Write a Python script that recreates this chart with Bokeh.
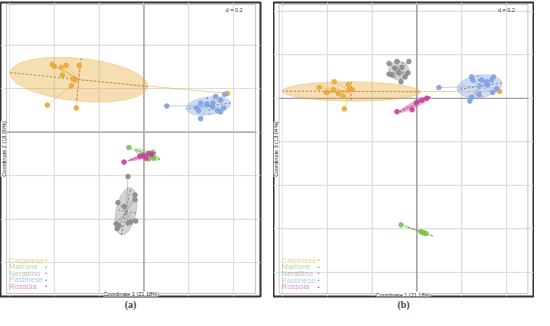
import numpy as np
from bokeh.plotting import figure
from bokeh.models import Range1d, Label
from bokeh.layouts import row
from bokeh.embed import file_html
from bokeh.resources import INLINE

groups = ["Carpinese", "Marrone", "Nerattino", "Pastinese", "Rossola"]
colors = ["#E8A838", "#7CC05A", "#8C8C8C", "#7FA2E0", "#C8449A"]

# ---- Panel (a): Coordinate 1 vs Coordinate 2 ----
carpinese_c1_a = [-0.409, -0.400, -0.369, -0.347, -0.289, -0.364, -0.316, -0.307, -0.324, -0.431, -0.302, 0.373]
carpinese_c2_a = [0.311, 0.302, 0.298, 0.307, 0.307, 0.262, 0.244, 0.240, 0.213, 0.124, 0.111, 0.178]
marrone_c1_a = [-0.067, 0.022, 0.044, 0.040, 0.031, 0.018]
marrone_c2_a = [-0.071, -0.124, -0.120, -0.093, -0.107, -0.102]
nerattino_c1_a = [-0.071, -0.040, -0.040, -0.116, -0.089, -0.124, -0.120, -0.071, -0.058, -0.036, -0.111]
nerattino_c2_a = [-0.204, -0.289, -0.311, -0.324, -0.342, -0.422, -0.444, -0.418, -0.413, -0.409, -0.431]
pastinese_c1_a = [0.102, 0.244, 0.236, 0.253, 0.280, 0.307, 0.320, 0.342, 0.360, 0.356, 0.329, 0.342, 0.253, 0.307]
pastinese_c2_a = [0.120, 0.098, 0.111, 0.133, 0.129, 0.133, 0.164, 0.147, 0.173, 0.111, 0.098, 0.093, 0.062, 0.116]
rossola_c1_a = [-0.089, -0.018, 0.009, 0.036, -0.004, 0.022]
rossola_c2_a = [-0.138, -0.111, -0.120, -0.102, -0.107, -0.098]

# ---- Panel (b): Coordinate 1 vs Coordinate 3 ----
carpinese_c1_b = [-0.436, -0.404, -0.400, -0.369, -0.373, -0.351, -0.329, -0.307, -0.302, -0.289, -0.324, 0.369]
carpinese_c3_b = [0.049, 0.027, 0.027, 0.076, 0.040, 0.022, 0.009, 0.062, 0.040, 0.040, -0.049, 0.031]
marrone_c1_b = [-0.071, 0.018, 0.031, 0.040, 0.027]
marrone_c3_b = [-0.582, -0.613, -0.618, -0.622, -0.618]
nerattino_c1_b = [-0.124, -0.089, -0.036, -0.124, -0.111, -0.067, -0.040, -0.071, -0.098, -0.080, -0.053]
nerattino_c3_b = [0.160, 0.169, 0.169, 0.111, 0.107, 0.142, 0.116, 0.076, 0.138, 0.116, 0.098]
pastinese_c1_b = [0.098, 0.244, 0.249, 0.289, 0.311, 0.342, 0.356, 0.338, 0.276, 0.244, 0.236, 0.316, 0.333]
pastinese_c3_b = [0.049, 0.098, 0.084, 0.084, 0.076, 0.098, 0.044, 0.027, 0.018, 0.004, -0.013, 0.062, 0.084]
rossola_c1_b = [-0.089, -0.022, 0.000, 0.044, 0.022]
rossola_c3_b = [-0.062, -0.053, -0.018, 0.000, -0.009]

panel_a_data = [(carpinese_c1_a, carpinese_c2_a), (marrone_c1_a, marrone_c2_a),
                (nerattino_c1_a, nerattino_c2_a), (pastinese_c1_a, pastinese_c2_a),
                (rossola_c1_a, rossola_c2_a)]
panel_b_data = [(carpinese_c1_b, carpinese_c3_b), (marrone_c1_b, marrone_c3_b),
                (nerattino_c1_b, nerattino_c3_b), (pastinese_c1_b, pastinese_c3_b),
                (rossola_c1_b, rossola_c3_b)]

x_label = "Coordinate 1 (21.18%)"
y_label_a = "Coordinate 2 (18.30%)"
y_label_b = "Coordinate 3 (13.04%)"
grid_step = 0.2
FONT = "Liberation Sans"


def darken(hexcol, f=0.55):
    r, g, b = (int(hexcol[i:i + 2], 16) for i in (1, 3, 5))
    return "#%02x%02x%02x" % (int(r * f), int(g * f), int(b * f))


def ellipse_geom(x, y, k=1.5, n=120):
    x = np.asarray(x, float)
    y = np.asarray(y, float)
    mx, my = x.mean(), y.mean()
    cov = np.cov(np.vstack([x, y]), bias=True)
    vals, vecs = np.linalg.eigh(cov)
    vals = np.clip(vals, 0, None)
    t = np.linspace(0, 2 * np.pi, n)
    circ = np.vstack([np.cos(t), np.sin(t)])
    pts = vecs @ (k * np.sqrt(vals)[:, None] * circ)
    axes = []
    for i in range(2):
        v = vecs[:, i] * k * np.sqrt(vals[i])
        axes.append(([mx - v[0], mx + v[0]], [my - v[1], my + v[1]]))
    return mx, my, mx + pts[0], my + pts[1], axes


def make_panel(letter, data, xr, yr, inner, ylab, width, mb_right, zero_color, zero_width):
    xl, xh, yl, yh = inner
    p = figure(width=width, height=310, x_range=Range1d(*xr), y_range=Range1d(*yr),
               x_axis_location=None, y_axis_location=None, toolbar_location=None,
               output_backend="svg", title=letter, title_location="below",
               min_border_left=0, min_border_right=mb_right, min_border_top=2,
               min_border_bottom=0)
    p.title.align = "center"
    p.title.text_font = "Liberation Serif"
    p.title.text_font_size = "10px"
    p.title.text_font_style = "bold"
    p.title.standoff = 1
    p.title.offset = 0
    p.background_fill_color = "white"
    p.border_fill_color = "white"
    p.outline_line_color = "#333333"
    p.outline_line_width = 2

    # grid inside the inner box
    ticks = np.round(np.arange(-1.2, 1.21, grid_step), 6)
    gx = [t for t in ticks if xl + 0.02 < t < xh - 0.02 and abs(t) > 1e-9]
    gy = [t for t in ticks if yl + 0.02 < t < yh - 0.02 and abs(t) > 1e-9]
    p.segment(x0=gx, y0=yl, x1=gx, y1=yh, line_color="#dddddd", line_width=1)
    p.segment(x0=xl, y0=gy, x1=xh, y1=gy, line_color="#dddddd", line_width=1)
    p.quad(left=xl, right=xh, bottom=yl, top=yh, fill_color=None,
           line_color="#c4c4c4", line_width=1)
    p.segment(x0=[0], y0=[yl], x1=[0], y1=[yh], line_color=zero_color, line_width=zero_width)
    p.segment(x0=[xl], y0=[0], x1=[xh], y1=[0], line_color=zero_color, line_width=zero_width)

    geoms = [ellipse_geom(x, y) for x, y in data]
    for (mx, my, ex, ey, axes), c in zip(geoms, colors):
        p.patch(ex, ey, fill_color=c, fill_alpha=0.38, line_color=c,
                line_alpha=0.45, line_width=0.8)
    for (mx, my, ex, ey, axes), c in zip(geoms, colors):
        p.multi_line([a[0] for a in axes], [a[1] for a in axes],
                     line_color=darken(c), line_alpha=0.75, line_width=0.9,
                     line_dash="2 2")
    for (x, y), (mx, my, ex, ey, axes), c in zip(data, geoms, colors):
        p.segment(x0=mx, y0=my, x1=x, y1=y, line_color=c, line_alpha=0.55,
                  line_width=0.9)
    for (x, y), c in zip(data, colors):
        p.scatter(x, y, size=4.6, fill_color=c, line_color=c, fill_alpha=0.9,
                  line_alpha=0.9)

    # texts
    p.add_layout(Label(x=xh, y=yh, x_offset=-13, y_offset=-5.5, text="d = 0.2",
                       text_align="right", text_baseline="middle",
                       text_font=FONT, text_font_size="5.5px", text_color="#333333"))
    p.add_layout(Label(x=(xl + xh) / 2, y=yl, y_offset=-1, text=x_label,
                       text_align="center", text_baseline="middle",
                       text_font=FONT, text_font_size="5.5px", text_color="#222222",
                       background_fill_color="white"))
    p.add_layout(Label(x=xl, y=(yl + yh) / 2, x_offset=0, text=ylab, angle=np.pi / 2,
                       text_align="center", text_baseline="bottom",
                       text_font=FONT, text_font_size="5.5px", text_color="#222222",
                       background_fill_color="white"))
    n = len(groups)
    for i, (g, c) in enumerate(zip(groups, colors)):
        off = 7 + 6.6 * (n - 1 - i)
        p.add_layout(Label(x=xl, y=yl, x_offset=2.5, y_offset=off, text=g,
                           text_align="left", text_baseline="middle",
                           text_font=FONT, text_font_size="7.7px",
                           text_color=c, text_alpha=0.6))
        p.add_layout(Label(x=xl, y=yl, x_offset=39.5, y_offset=off, text="\u2022",
                           text_align="center", text_baseline="middle",
                           text_font=FONT, text_font_size="6px", text_color=c))
    return p


pa = make_panel("(a)", panel_a_data, (-0.640, 0.520), (-0.756, 0.596),
                (-0.613, 0.498, -0.742, 0.587), y_label_a, 273, 13, "#b0b0b0", 1.8)
pb = make_panel("(b)", panel_b_data, (-0.640, 0.520), (-0.911, 0.440),
                (-0.615, 0.495, -0.898, 0.431), y_label_b, 261, 1, "#8a8a8a", 1.2)

layout = row(pa, pb)
open("out.html", "w").write(file_html(layout, INLINE))
